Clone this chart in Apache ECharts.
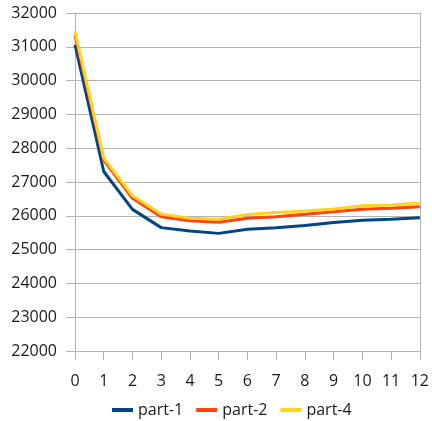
<!DOCTYPE html>
<html>
<head>
<meta charset="utf-8">
<script src="https://cdn.jsdelivr.net/npm/echarts@6/dist/echarts.min.js"></script>
<style>
  html, body { margin: 0; padding: 0; background: #ffffff; }
  #chart { width: 432px; height: 421px; }
</style>
</head>
<body>
<div id="chart"></div>
<script>
// Step index along the x axis
const categories = ['0', '1', '2', '3', '4', '5', '6', '7', '8', '9', '10', '11', '12'];

// Series values
const part1 = [31060, 27310, 26190, 25650, 25550, 25480, 25600, 25650, 25710, 25800, 25870, 25900, 25945];
const part2 = [31350, 27650, 26520, 25975, 25855, 25810, 25925, 25975, 26045, 26120, 26195, 26225, 26270];
const part4 = [31460, 27710, 26590, 26050, 25925, 25895, 26040, 26095, 26140, 26200, 26300, 26320, 26380];

// Value axis range
const yMin = 22000;
const yMax = 32000;
const yStep = 1000;

const fontFamily = '"Open Sans", "DejaVu Sans", sans-serif';
const textColor = '#1a1a1a';
const gridColor = '#b3b3b3';

const chart = echarts.init(document.getElementById('chart'));

function lineSeries(name, data, color) {
  return {
    name: name,
    type: 'line',
    data: data,
    symbol: 'none',
    smooth: false,
    lineStyle: { color: color, width: 3 },
    itemStyle: { color: color },
    animation: false
  };
}

chart.setOption({
  animation: false,
  grid: { left: 75, right: 7, top: 13, bottom: 70, containLabel: false },
  legend: {
    top: 397,
    left: 107,
    itemWidth: 21,
    itemHeight: 4,
    itemGap: 13,
    icon: 'rect',
    textStyle: { fontFamily: fontFamily, fontSize: 16, color: textColor },
    data: ['part-1', 'part-2', 'part-4']
  },
  xAxis: {
    type: 'category',
    data: categories,
    boundaryGap: false,
    axisLine: { show: false },
    axisTick: { show: true, length: 9, lineStyle: { color: gridColor, width: 1 } },
    axisLabel: { fontFamily: fontFamily, fontSize: 16, color: textColor, margin: 22 },
    splitLine: { show: false }
  },
  yAxis: [
    {
      type: 'value',
      min: yMin,
      max: yMax,
      interval: yStep,
      axisLine: { show: true, lineStyle: { color: gridColor, width: 1 } },
      axisTick: { show: true, length: 9, lineStyle: { color: gridColor, width: 1 } },
      axisLabel: {
        fontFamily: fontFamily, fontSize: 16, color: textColor, margin: 18,
        formatter: function (v) { return String(v); }
      },
      splitLine: { show: true, lineStyle: { color: gridColor, width: 1 } }
    },
    {
      type: 'value',
      position: 'right',
      min: yMin,
      max: yMax,
      interval: yStep,
      axisLine: { show: true, lineStyle: { color: gridColor, width: 1 } },
      axisTick: { show: false },
      axisLabel: { show: false },
      splitLine: { show: false }
    }
  ],
  series: [
    lineSeries('part-1', part1, '#004586'),
    lineSeries('part-2', part2, '#ff420e'),
    lineSeries('part-4', part4, '#ffd320')
  ]
});
</script>
</body>
</html>
